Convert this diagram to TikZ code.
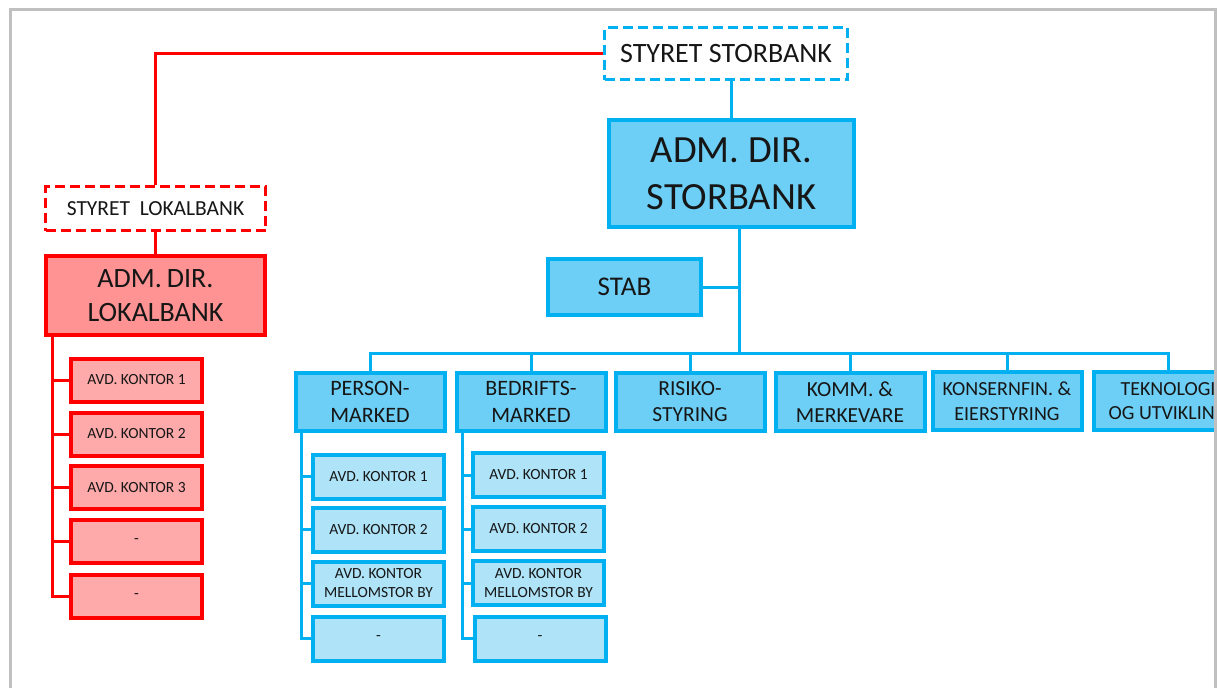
\documentclass[tikz,border=0pt]{standalone}
\usepackage{fontspec}
\setmainfont{Carlito}
\newcommand\setfs[2]{\fontsize{#1}{#2}\selectfont}
\definecolor{sky}{HTML}{00B0F0}
\definecolor{skyfill}{HTML}{6DCFF6}
\definecolor{skysub}{HTML}{AEE3F8}
\definecolor{redline}{HTML}{FF0000}
\definecolor{redfill}{HTML}{FF9292}
\definecolor{redsub}{HTML}{FFAAAA}
\definecolor{txt}{HTML}{161616}
\definecolor{framegray}{HTML}{C0C0C0}
\begin{document}
\begin{tikzpicture}[x=1pt,y=-1pt,
  every node/.style={text=txt, align=center, inner sep=0pt},
  bluedash/.style={draw=sky, fill=white, line width=3, dash pattern=on 10pt off 5pt},
  reddash/.style={draw=redline, fill=white, line width=3, dash pattern=on 10pt off 5pt},
  headbox/.style={draw=sky, fill=skyfill, line width=4},
  unitbox/.style={draw=sky, fill=skyfill, line width=4, minimum width=149, minimum height=58},
  subbox/.style={draw=sky, fill=skysub, line width=4, minimum width=131, minimum height=44, font=\setfs{15.5}{19}},
  redhead/.style={draw=redline, fill=redfill, line width=4},
  redbox/.style={draw=redline, fill=redsub, line width=4, minimum width=131, minimum height=43, font=\setfs{15.5}{19}},
  bline/.style={draw=sky, line width=3},
  rline/.style={draw=redline, line width=3}]
\useasboundingbox (0,0) rectangle (1218,688);

\begin{scope}
\clip (0,0) rectangle (1214,688);

% board and management, large bank
\node[bluedash, minimum width=243, minimum height=52, font=\setfs{28}{34}] (styS) at (726,53.5) {STYRET STORBANK};
\node[headbox, minimum width=245, minimum height=107, font=\setfs{38.5}{47}] (admS) at (731.5,173.5) {ADM. DIR.\\STORBANK};
\node[headbox, minimum width=153, minimum height=56, font=\setfs{27}{33}] (stab) at (624.5,287) {STAB};

% business units
\node[unitbox, font=\setfs{22}{26.5}] (pm) at (370,402) {PERSON-\\MARKED};
\node[unitbox, font=\setfs{22}{26.5}] (bm) at (531,402) {BEDRIFTS-\\MARKED};
\node[unitbox, font=\setfs{21.5}{26}] (ri) at (690,402) {RISIKO-\\STYRING};
\node[unitbox, font=\setfs{21.5}{26}] (ko) at (850,402) {KOMM. \&\\MERKEVARE};
\node[unitbox, font=\setfs{20}{24.5}] (kf) at (1007,401) {KONSERNFIN. \&\\EIERSTYRING};
\node[unitbox, font=\setfs{20}{24.5}] (tek) at (1168,401) {TEKNOLOGI\\OG UTVIKLING};

% branch offices
\node[subbox] (pm1) at (378.5,476.5) {AVD. KONTOR 1};
\node[subbox] (pm2) at (378.5,529.5) {AVD. KONTOR 2};
\node[subbox] (pm3) at (378.5,583.5) {AVD. KONTOR\\MELLOMSTOR BY};
\node[subbox] (pm4) at (378.5,638.5) {-};
\node[subbox] (bm1) at (538.5,475) {AVD. KONTOR 1};
\node[subbox] (bm2) at (538.5,529) {AVD. KONTOR 2};
\node[subbox] (bm3) at (538.5,583) {AVD. KONTOR\\MELLOMSTOR BY};
\node[subbox] (bm4) at (540,638.5) {-};

% connectors, large bank
\coordinate (bus) at (739,353);
\draw[bline] (admS.north |- styS.south) -- (admS.north);
\draw[bline] (admS.south -| bus) -- (bus);
\draw[bline] (stab.east) -- (stab.east -| bus);
\draw[bline] (pm.north) |- (bus) -| (tek.north);
\foreach \u in {bm,ri,ko,kf} \draw[bline] (\u.north) -- (\u.north |- bus);

\coordinate (pmrail) at ([xshift=8pt]pm.south west);
\draw[bline] (pmrail) |- (pm4.west);
\foreach \s in {pm1,pm2,pm3} \draw[bline] (pmrail |- \s.west) -- (\s.west);
\coordinate (bmrail) at ([xshift=8pt]bm.south west);
\draw[bline] (bmrail) |- (bm4.west);
\foreach \s in {bm1,bm2,bm3} \draw[bline] (bmrail |- \s.west) -- (\s.west);
\end{scope}

% local bank
\node[reddash, minimum width=220, minimum height=44, font=\setfs{21.5}{26}] (styL) at (155.5,208.5) {STYRET\hspace{0.45em}LOKALBANK};
\node[redhead, minimum width=219, minimum height=79, font=\setfs{28}{34}] (admL) at (155.5,295.5) {ADM.\hspace{0.18em}DIR.\\LOKALBANK};
\node[redbox] (lk1) at (136.5,380) {AVD. KONTOR 1};
\node[redbox] (lk2) at (136.5,434) {AVD. KONTOR 2};
\node[redbox] (lk3) at (136.5,487.5) {AVD. KONTOR 3};
\node[redbox] (lk4) at (136.5,541.5) {-};
\node[redbox] (lk5) at (136.5,596) {-};

\draw[redline, line width=2.5] (styS.west) -| (styL.north);
\draw[rline] (styL.south) -- (admL.north);
\coordinate (lkrail) at ([xshift=8pt]admL.south west);
\draw[rline] (lkrail) |- (lk5.west);
\foreach \s in {lk1,lk2,lk3,lk4} \draw[rline] (lkrail |- \s.west) -- (\s.west);

% page frame
\draw[framegray, line width=3] (10,688) -- (10,9) -- (1215,9) -- (1215,688);
\end{tikzpicture}
\end{document}
